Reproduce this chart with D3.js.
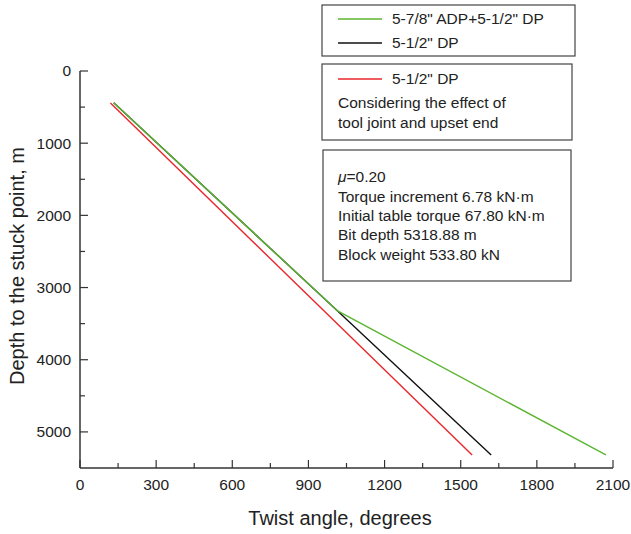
<!DOCTYPE html>
<html>
<head>
<meta charset="utf-8">
<script src="https://cdn.jsdelivr.net/npm/d3@7"></script>
<style>
  body { margin: 0; background: #fff; }
  text { font-family: "Liberation Sans", Arial, sans-serif; fill: #222; }
</style>
</head>
<body>
<script>
// twist angle (deg) vs depth to the stuck point (m)
var greenAngle = [133, 1015, 2072];
var greenDepth = [440, 3324, 5319];
var blackAngle = [133, 1015, 1620];
var blackDepth = [440, 3324, 5319];
var redAngle = [120, 1545];
var redDepth = [445, 5319];

var xTicks = [0, 300, 600, 900, 1200, 1500, 1800, 2100];
var yTicks = [0, 1000, 2000, 3000, 4000, 5000];

var legend1 = ['5-7/8" ADP+5-1/2" DP', '5-1/2" DP'];
var legend2 = ['5-1/2" DP', 'Considering the effect of', 'tool joint and upset end'];
var notes = ['=0.20', 'Torque increment 6.78 kN\u00b7m', 'Initial table torque 67.80 kN\u00b7m',
  'Bit depth 5318.88 m', 'Block weight 533.80 kN'];

var width = 631, height = 534;

var svg = d3.select("body").append("svg")
  .attr("width", width)
  .attr("height", height);

var x = d3.scaleLinear().domain([0, 2100]).range([80, 613]);
var y = d3.scaleLinear().domain([0, 5500]).range([71, 468]);

var axisColor = "#333";

// x axis, ticks pointing up into the plot
var xAxis = svg.append("g").attr("transform", "translate(0," + y(5500) + ")");
xAxis.append("line").attr("x1", x(0)).attr("x2", x(2100)).attr("stroke", axisColor).attr("stroke-width", 1.5);
xAxis.selectAll(".minor").data(d3.range(150, 2100, 300)).enter().append("line")
  .attr("x1", function(d){ return x(d); }).attr("x2", function(d){ return x(d); })
  .attr("y1", 0).attr("y2", -5).attr("stroke", axisColor).attr("stroke-width", 1.2);
xAxis.selectAll(".major").data(xTicks).enter().append("line")
  .attr("x1", function(d){ return x(d); }).attr("x2", function(d){ return x(d); })
  .attr("y1", 0).attr("y2", -8).attr("stroke", axisColor).attr("stroke-width", 1.2);
xAxis.selectAll("text").data(xTicks).enter().append("text")
  .attr("x", function(d){ return x(d); }).attr("y", 22)
  .attr("text-anchor", "middle").style("font-size", "15.5px")
  .text(function(d){ return d; });

// y axis, ticks pointing right
var yAxis = svg.append("g").attr("transform", "translate(" + x(0) + ",0)");
yAxis.append("line").attr("y1", y(0)).attr("y2", y(5500)).attr("stroke", axisColor).attr("stroke-width", 1.5);
yAxis.selectAll(".minor").data(d3.range(500, 5500, 1000)).enter().append("line")
  .attr("y1", function(d){ return y(d); }).attr("y2", function(d){ return y(d); })
  .attr("x1", 0).attr("x2", 5).attr("stroke", axisColor).attr("stroke-width", 1.2);
yAxis.selectAll(".major").data(yTicks).enter().append("line")
  .attr("y1", function(d){ return y(d); }).attr("y2", function(d){ return y(d); })
  .attr("x1", 0).attr("x2", 8).attr("stroke", axisColor).attr("stroke-width", 1.2);
yAxis.selectAll("text").data(yTicks).enter().append("text")
  .attr("x", -9).attr("y", function(d){ return y(d); }).attr("dy", "0.35em")
  .attr("text-anchor", "end").style("font-size", "15.5px")
  .text(function(d){ return d; });

// axis titles
svg.append("text").attr("x", 340).attr("y", 525).attr("text-anchor", "middle")
  .style("font-size", "20px").text("Twist angle, degrees");
svg.append("text").attr("transform", "translate(24,266) rotate(-90)").attr("text-anchor", "middle")
  .style("font-size", "20px").text("Depth to the stuck point, m");

// lines
var line = d3.line().x(function(d){ return x(d[0]); }).y(function(d){ return y(d[1]); });
var series = [
  { a: blackAngle, d: blackDepth, color: "#111" },
  { a: redAngle, d: redDepth, color: "#e8262b" },
  { a: greenAngle, d: greenDepth, color: "#5cb531" }
];
series.forEach(function(s){
  svg.append("path")
    .attr("d", line(d3.zip(s.a, s.d)))
    .attr("fill", "none").attr("stroke", s.color).attr("stroke-width", 1.4);
});

// legend boxes
var boxColor = "#444";
svg.append("rect").attr("x", 322).attr("y", 5).attr("width", 253).attr("height", 51)
  .attr("fill", "#fff").attr("stroke", boxColor).attr("stroke-width", 1.2);
svg.append("rect").attr("x", 322).attr("y", 64).attr("width", 250).attr("height", 76)
  .attr("fill", "#fff").attr("stroke", boxColor).attr("stroke-width", 1.2);
svg.append("rect").attr("x", 323).attr("y", 150).attr("width", 248).attr("height", 131)
  .attr("fill", "#fff").attr("stroke", boxColor).attr("stroke-width", 1.2);

var legItems = [
  { label: legend1[0], color: "#5cb531", y: 19 },
  { label: legend1[1], color: "#111", y: 43 },
  { label: legend2[0], color: "#e8262b", y: 79 }
];
legItems.forEach(function(d){
  svg.append("line").attr("x1", 338).attr("x2", 382).attr("y1", d.y).attr("y2", d.y)
    .attr("stroke", d.color).attr("stroke-width", 1.4);
  svg.append("text").attr("x", 392).attr("y", d.y).attr("dy", "0.35em")
    .style("font-size", "15.5px").text(d.label);
});
svg.append("text").attr("x", 338).attr("y", 103).attr("dy", "0.35em")
  .style("font-size", "15.5px").text(legend2[1]);
svg.append("text").attr("x", 338).attr("y", 123).attr("dy", "0.35em")
  .style("font-size", "15.5px").text(legend2[2]);

notes.forEach(function(t, i){
  var tx = svg.append("text").attr("x", 338).attr("y", 177 + i * 19.3).attr("dy", "0.35em")
    .style("font-size", "15.5px");
  if (i === 0) {
    tx.append("tspan").style("font-style", "italic").text("\u03bc");
  }
  tx.append("tspan").text(t);
});
</script>
</body>
</html>
